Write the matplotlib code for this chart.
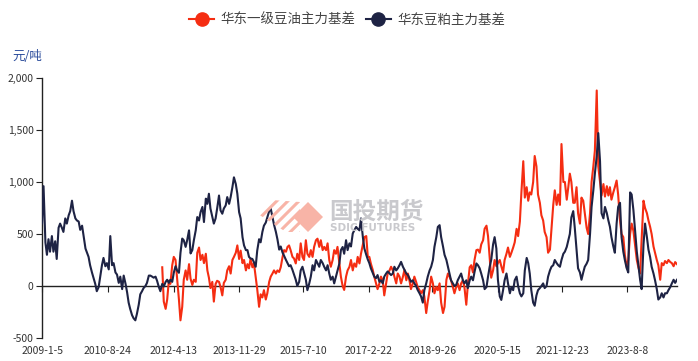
import matplotlib
matplotlib.use('Agg')
import matplotlib.pyplot as plt
import matplotlib.transforms as mtransforms
from matplotlib.lines import Line2D
from matplotlib.patches import Polygon
import pandas as pd

plt.rcParams['font.family'] = ['Noto Sans CJK SC', 'DejaVu Sans']
plt.rcParams['hatch.linewidth'] = 2.2

series_names = ['华东一级豆油主力基差', '华东豆粕主力基差']
unit_label = '元/吨'
meal_start = '2009-01-01'
oil_start = '2012-01-01'
tick_dates = ['2009-01-05', '2010-08-24', '2012-04-13', '2013-11-29', '2015-07-10',
              '2017-02-22', '2018-09-26', '2020-05-15', '2021-12-23', '2023-08-08']
tick_labels = ['2009-1-5', '2010-8-24', '2012-4-13', '2013-11-29', '2015-7-10',
               '2017-2-22', '2018-9-26', '2020-5-15', '2021-12-23', '2023-8-8']
y_ticks = [-500, 0, 500, 1000, 1500, 2000]

# 华东豆粕主力基差 (semi-monthly readings)
meal_basis = [
    600, 960, 420, 300, 450, 330, 480, 330, 430, 260,
    560, 600, 560, 520, 650, 600, 680, 720, 820, 720,
    650, 630, 620, 540, 580, 480, 360, 320, 280, 200,
    130, 80, 20, -50, -10, 90, 200, 270, 190, 220,
    160, 480, 200, 220, 130, 110, 30, 90, -30, 100,
    20, -60, -160, -220, -280, -310, -330, -270, -180, -80,
    -50, -20, 0, 30, 100, 100, 90, 80, 90, 50,
    -10, -50, 20, -5, 40, 60, 30, 60, 40, 127,
    190, 150, 127, 318, 456, 440, 376, 440, 535, 313,
    345, 440, 535, 663, 630, 710, 760, 615, 840, 790,
    887, 745, 663, 600, 650, 745, 870, 727, 695, 745,
    775, 855, 790, 855, 950, 1045, 980, 887, 710, 650,
    470, 390, 345, 345, 280, 265, 260, 230, 185, 340,
    450, 420, 520, 580, 610, 660, 720, 745, 660, 590,
    520, 450, 350, 380, 320, 290, 250, 220, 190, 200,
    155, 110, 60, 0, 40, 150, 185, 130, 60, -40,
    25, 90, 200, 150, 250, 220, 185, 250, 220, 185,
    150, 200, 120, 60, 90, 25, 90, 150, 215, 345,
    375, 310, 440, 345, 410, 380, 505, 535, 568, 550,
    535, 650, 470, 360, 300, 255, 220, 170, 125, 90,
    75, 105, 40, 55, 25, 90, 120, 140, 120, 105,
    120, 185, 150, 170, 200, 232, 185, 155, 120, 105,
    75, 40, 55, 25, 0, -38, -70, -100, -160, -40,
    25, 90, 150, 185, 250, 376, 470, 568, 585, 470,
    380, 300, 250, 185, 120, 55, 25, 0, 10, 55,
    90, 120, 55, 25, 55, -20, 55, 90, 55, 135,
    217, 200, 170, 120, 55, -30, -10, 90, 185, 250,
    400, 470, 360, 60, -100, -134, -40, 55, 120, 25,
    -70, -10, -40, 55, 90, 0, -70, -100, -70, 150,
    270, 220, 120, -40, -160, -190, -90, -40, -20, 0,
    25, -20, 0, 90, 150, 185, 200, 250, 220, 200,
    185, 250, 310, 330, 376, 440, 500, 660, 720, 560,
    350, 170, 130, 60, 130, 185, 215, 250, 500, 760,
    920, 1080, 1250, 1470, 1200, 700, 650, 760, 700, 630,
    570, 470, 380, 320, 600, 760, 800, 470, 330, 250,
    170, 130, 900, 880, 730, 550, 330, 200, 60, -30,
    400, 600, 470, 350, 280, 185, 120, 55, -30, -130,
    -110, -70, -110, -70, -70, -40, -10, 25, 60, 30, 60,
]

# 华东一级豆油主力基差 (semi-monthly readings)
oil_basis = [
    180, -150, -220, -130, 50, 20, 200, 280,
    250, 80, -130, -330, -200, 60, 150, 60, 210, 70,
    10, 60, 40, 320, 370, 250, 300, 220, 310, 150,
    80, -20, 40, -150, 20, 50, 40, -10, -90, 30,
    60, 150, 190, 120, 250, 280, 320, 390, 260, 340,
    220, 250, 150, 210, 170, 260, 180, 220, 90, -30,
    -200, -80, -110, -40, -130, -70, 40, 90, 120, 150,
    120, 150, 135, 180, 280, 345, 330, 376, 390, 345,
    280, 265, 217, 310, 250, 410, 280, 250, 440, 310,
    280, 345, 280, 376, 440, 455, 376, 440, 345, 376,
    345, 410, 250, 185, 250, 345, 310, 376, 217, 90,
    0, -38, 90, 150, 185, 250, 150, 217, 185, 280,
    217, 310, 400, 470, 480, 280, 280, 215, 155, 90,
    25, -30, 25, 90, 55, -90, 25, 120, 150, 185,
    150, 90, 25, 120, 90, 25, 90, 155, 55, 120,
    55, -30, 25, 90, 40, -10, -40, -70, -40, -100,
    -260, -150, -40, 90, 25, -70, -10, -40, 25, -160,
    -260, -200, 60, 120, 90, 55, -10, -70, -10, 25,
    -40, 25, 55, -10, -180, 10, 180, 200, 130, 250,
    345, 350, 320, 400, 440, 550, 580, 480, 280, 80,
    150, 250, 190, 220, 250, 190, 130, 250, 310, 370,
    280, 320, 370, 420, 550, 480, 620, 900, 1200, 850,
    950, 820, 900, 880, 1000, 1250, 1150, 880, 800, 680,
    630, 520, 470, 320, 350, 550, 780, 920, 780, 880,
    780, 1365, 1000, 1000, 830, 950, 1080, 1000, 800, 800,
    950, 700, 600, 850, 820, 700, 560, 500, 700, 1000,
    1150, 1300, 1880, 1150, 1000, 870, 980, 860, 960, 870,
    950, 830, 900, 950, 1014, 880, 630, 500, 470, 300,
    180, 250, 500, 600, 530, 400, 250, 180, 120, 450,
    820, 750, 700, 630, 570, 500, 380, 320, 250, 200,
    60, 220, 200, 240, 220, 250, 230, 220, 190, 230, 210,
]

red = '#F52D12'
navy = '#1E2344'

meal_dates = pd.date_range(meal_start, periods=len(meal_basis), freq='SMS')
oil_dates = pd.date_range(oil_start, periods=len(oil_basis), freq='SMS')
ticks = pd.to_datetime(tick_dates)

W, H = 698, 361
fig = plt.figure(figsize=(W / 100, H / 100), dpi=100)

def fx(x):
    return x / W

def fy(y):
    return 1 - y / H

# watermark
sal = '#F8B4A7'
fig.patches.append(Polygon([(fx(293), fy(217)), (fx(308), fy(202)), (fx(323), fy(217)), (fx(308), fy(232))],
                           closed=True, transform=fig.transFigure, facecolor=sal, edgecolor='none', zorder=0))
fig.patches.append(Polygon([(fx(258), fy(214)), (fx(272), fy(200)), (fx(300), fy(202)), (fx(300), fy(232)), (fx(286), fy(232))],
                           closed=True, transform=fig.transFigure, facecolor='none', edgecolor=sal, lw=0,
                           hatch='///', zorder=0))
fig.text(fx(329), fy(212), '国投期货', fontsize=17, fontweight='bold', color='#C9C9CD',
         ha='left', va='center', zorder=0)
fig.text(fx(330), fy(228.5), 'SDIC FUTURES', fontsize=7.5, fontweight='bold', color='#C9C9CD',
         ha='left', va='center', family='DejaVu Sans', zorder=0)

ax = fig.add_axes([fx(42), fy(338), (677 - 42) / W, (338 - 78) / H])
ax.patch.set_alpha(0)

ax.plot(oil_dates, oil_basis, color=red, lw=1.5, zorder=3)
ax.plot(meal_dates, meal_basis, color=navy, lw=1.5, zorder=4)

ax.set_xlim(meal_dates[0], meal_dates[-1])
ax.set_ylim(-500, 2000)
ax.set_yticks(y_ticks)
ax.set_yticklabels([f'{v:,}' for v in y_ticks])

for s in ['top', 'right']:
    ax.spines[s].set_visible(False)
ax.spines['bottom'].set_position(('data', 0))
ax.spines['bottom'].set_color('#222222')
ax.spines['left'].set_color('#222222')
ax.spines['bottom'].set_linewidth(1)
ax.spines['left'].set_linewidth(1)

ax.set_xticks(ticks)
ax.tick_params(axis='x', direction='out', length=4, color='#222222', labelbottom=False)
ax.tick_params(axis='y', direction='out', length=4, color='#222222', pad=2,
               labelsize=7.5, labelcolor='#333333')

trans = mtransforms.blended_transform_factory(ax.transData, ax.transAxes)
for d, lab in zip(ticks, tick_labels):
    ax.text(d, -0.03, lab, transform=trans, ha='center', va='top', fontsize=7.5,
            color='#333333')

fig.text(fx(12), fy(56), unit_label, fontsize=9, color='#2B4C9B', ha='left', va='center')

handles = [Line2D([], [], color=red, lw=1.5, marker='o', markersize=9.5),
           Line2D([], [], color=navy, lw=1.5, marker='o', markersize=9.5)]
fig.legend(handles, series_names, loc='center', bbox_to_anchor=(fx(347), fy(20)), ncol=2,
           frameon=False, fontsize=9.7, handlelength=1.9, handletextpad=0.45,
           columnspacing=0.75, labelcolor='#444444')

fig.savefig('out.png', dpi=100)
